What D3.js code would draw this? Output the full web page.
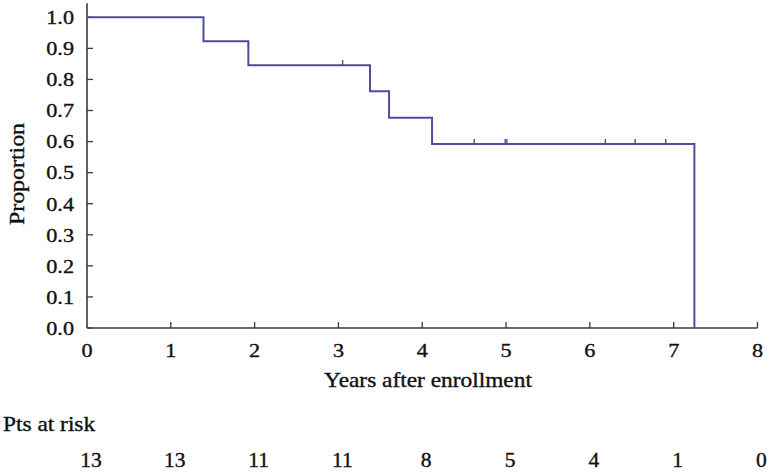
<!DOCTYPE html>
<html><head><meta charset="utf-8">
<script src="https://cdn.jsdelivr.net/npm/d3@7"></script>
<style>body{margin:0;background:#fff}svg{display:block}</style>
</head><body><svg id="c" width="773" height="473"></svg>
<script>
// step times (years) and survival proportion after each step
const stepTimes = [0, 1.39, 1.925, 3.377, 3.604, 4.117, 7.247];
const survival  = [1.0, 0.923, 0.846, 0.762, 0.677, 0.592, 0.0];
// censored observations
const censorTimes = [3.05, 4.62, 4.99, 5.01, 6.185, 6.54, 6.905];
// axis ticks
const xTicks = [0,1,2,3,4,5,6,7,8];
const yTicks = [0,0.1,0.2,0.3,0.4,0.5,0.6,0.7,0.8,0.9,1.0];
// numbers at risk
const riskTimes = [0,1,2,3,4,5,6,7,8];
const riskCounts = [13,13,11,11,8,5,4,1,0];

const FONT = "'Liberation Serif', 'Times New Roman', Times, serif";
const svg = d3.select("#c");
const x = d3.scaleLinear().domain([0,8]).range([87,757.5]);
const y = d3.scaleLinear().domain([0,1]).range([328,17.3]);
const SX = 1.14; // horizontal stretch of text in the reference
const axisColor = "#3a3a3a", lineColor = "#4d4d9c", textColor = "#111";

function stext(g, tx, ty, str, size, anchor, sx){
  return g.append("text").attr("transform",`translate(${tx},${ty}) scale(${sx||SX},1)`)
    .attr("text-anchor",anchor||"middle").attr("font-family",FONT).attr("fill",textColor)
    .attr("stroke",textColor).attr("stroke-width",0.35)
    .attr("font-size",size).text(str);
}

// axes lines
svg.append("line").attr("x1",x(0)).attr("x2",x(0)).attr("y1",y(0)).attr("y2",y(1.045))
  .attr("stroke",axisColor).attr("stroke-width",1.6);
svg.append("line").attr("x1",x(0)).attr("x2",x(8)).attr("y1",y(0)).attr("y2",y(0))
  .attr("stroke",axisColor).attr("stroke-width",1.6);

// y ticks (inward)
yTicks.forEach(v=>{
  svg.append("line").attr("x1",x(0)).attr("x2",x(0)+6).attr("y1",y(v)).attr("y2",y(v))
    .attr("stroke",axisColor).attr("stroke-width",1.3);
  stext(svg, 74, y(v)+6.8, d3.format(".1f")(v), 19.5, "end");
});
// x ticks (inward)
xTicks.forEach(v=>{
  if(v>0) svg.append("line").attr("x1",x(v)).attr("x2",x(v)).attr("y1",y(0)).attr("y2",y(0)-6)
    .attr("stroke",axisColor).attr("stroke-width",1.3);
  stext(svg, x(v), 357, String(v), 19.5, "middle");
});

// KM step curve
const pts = [];
stepTimes.forEach((t,i)=>{
  if(i>0) pts.push([t, survival[i-1]]);
  pts.push([t, survival[i]]);
});
svg.append("path").attr("d", d3.line().x(d=>x(d[0])).y(d=>y(d[1]))(pts))
  .attr("fill","none").attr("stroke",lineColor).attr("stroke-width",2);

// censor marks
function survAt(t){ let s=1; stepTimes.forEach((st,i)=>{ if(st<=t) s=survival[i]; }); return s; }
censorTimes.forEach(t=>{
  svg.append("line").attr("x1",x(t)).attr("x2",x(t)).attr("y1",y(survAt(t))).attr("y2",y(survAt(t))-5)
    .attr("stroke",lineColor).attr("stroke-width",1.4);
});

// axis titles
stext(svg, 428, 387, "Years after enrollment", 20.5, "middle");
svg.append("text").attr("transform","translate(24,174) rotate(-90)").attr("text-anchor","middle")
  .attr("font-family",FONT).attr("fill",textColor).attr("stroke",textColor).attr("stroke-width",0.35)
  .attr("font-size",20).attr("textLength",102).attr("lengthAdjust","spacingAndGlyphs").text("Proportion");

// at risk table
stext(svg, 3, 430.5, "Pts at risk", 20.5, "start");
riskTimes.forEach((t,i)=>{
  stext(svg, x(t)+4, 467, String(riskCounts[i]), 20.5, "middle", 1.05);
});
</script></body></html>
